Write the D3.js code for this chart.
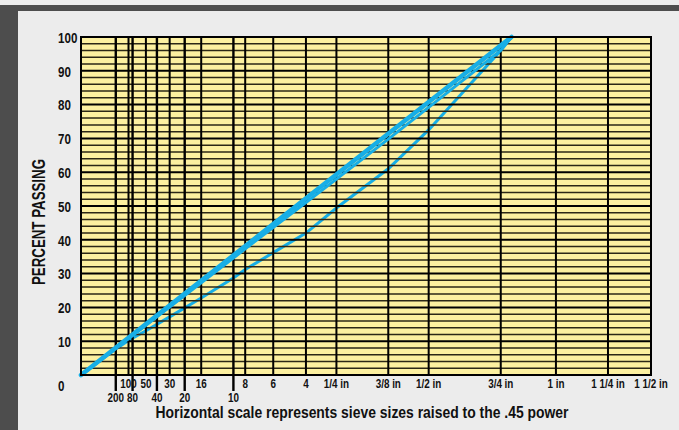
<!DOCTYPE html>
<html>
<head>
<meta charset="utf-8">
<script src="https://cdn.jsdelivr.net/npm/d3@7"></script>
<style>
  html, body { margin: 0; padding: 0; background: #ececec; }
  svg { display: block; }
  text { font-family: "Liberation Sans", Arial, sans-serif; font-weight: bold; fill: #111; }
</style>
</head>
<body>
<svg id="chart" width="679" height="430"></svg>
<script>
// Sieve openings (mm), their printed labels, and which label row they use (1 = lower row)
const sieveSizesMm = [0.075, 0.15, 0.18, 0.3, 0.425, 0.6, 0.85, 1.18, 2.0, 2.36, 3.35, 4.75, 6.3, 9.5, 12.5, 19, 25, 31.5, 37.5];
const sieveLabels  = ["200", "100", "80", "50", "40", "30", "20", "16", "10", "8", "6", "4", "1/4 in", "3/8 in", "1/2 in", "3/4 in", "1 in", "1 1/4 in", "1 1/2 in"];
const sieveLabelRow = [1, 0, 1, 0, 1, 0, 1, 0, 1, 0, 0, 0, 0, 0, 0, 0, 0, 0, 0];

// Percent passing axis
const percentTicks = [0, 10, 20, 30, 40, 50, 60, 70, 80, 90, 100];
const percentGrid = d3.range(0, 101, 2);

// Maximum density line
const maxDensitySizes = [0, 20.1];
const maxDensityPassing = [0, 100];

// Gradation lying just under the maximum density line
const gradationASizes = [0, 0.075, 0.3, 0.6, 1.18, 2.36, 4.75, 9.5, 12.5, 19, 20.1];
const gradationAPassing = [0, 8, 14.7, 20.1, 27.3, 37.3, 51, 69.8, 79.2, 96, 100];

// Finer-side gradation (lower curve)
const gradationBSizes = [0, 0.075, 0.15, 0.3, 0.6, 1.18, 2.0, 2.36, 3.35, 4.75, 6.3, 9.5, 12.5, 19, 20.1];
const gradationBPassing = [0, 7.7, 10.2, 13.1, 17.2, 22.8, 28.7, 31.2, 36.2, 42, 49.4, 61, 72.5, 96, 100];

const svg = d3.select("#chart");
const W = 679, H = 430;
const plotLeft = 81, plotRight = 651, plotTop = 37, plotBottom = 375;
const curveColor = "#17aee6";

// Backdrop and dark frame strips
svg.append("rect").attr("x", 0).attr("y", 0).attr("width", W).attr("height", H).attr("fill", "#ececec");
svg.append("rect").attr("x", 0).attr("y", 5).attr("width", W).attr("height", 6).attr("fill", "#4d4d4d");
svg.append("rect").attr("x", 0).attr("y", 5).attr("width", 18).attr("height", H - 5).attr("fill", "#4d4d4d");

// Horizontal axis: sieve size raised to the 0.45 power
const x = d3.scalePow().exponent(0.45).domain([0, 37.5]).range([plotLeft, plotRight]);
const y = d3.scaleLinear().domain([0, 100]).range([plotBottom, plotTop]);

svg.append("rect").attr("x", plotLeft).attr("y", plotTop)
  .attr("width", plotRight - plotLeft).attr("height", plotBottom - plotTop).attr("fill", "#fcf0a0");

const line = d3.line().x(d => x(d[0])).y(d => y(d[1]));

// Lower gradation sits beneath the grid, so the grid breaks it into dashes
svg.append("path")
  .datum(d3.zip(gradationBSizes, gradationBPassing))
  .attr("d", line).attr("fill", "none")
  .attr("stroke", curveColor).attr("stroke-width", 3).attr("stroke-linecap", "round");

// Horizontal grid every 2 percent
svg.append("g").selectAll("line").data(percentGrid).join("line")
  .attr("x1", plotLeft).attr("x2", plotRight)
  .attr("y1", d => y(d)).attr("y2", d => y(d))
  .attr("stroke", d => d % 10 === 0 ? "#000" : "#2b2716")
  .attr("stroke-width", d => d % 10 === 0 ? 2 : 1.5);

// Vertical sieve lines; lower-row sieves run down to their labels
const sieves = d3.zip(sieveSizesMm, sieveLabels, sieveLabelRow);
svg.append("g").selectAll("line").data(sieves).join("line")
  .attr("x1", d => x(d[0])).attr("x2", d => x(d[0]))
  .attr("y1", plotTop).attr("y2", d => d[2] === 1 ? plotBottom + 16 : plotBottom)
  .attr("stroke", "#000")
  .attr("stroke-width", d => d[2] === 1 ? 2.4 : 2);

// Sieve labels in a narrow face
svg.append("g").selectAll("text").data(sieves).join("text")
  .attr("transform", d => `translate(${x(d[0])},${d[2] === 1 ? 402 : 388}) scale(0.76,1)`)
  .attr("text-anchor", "middle")
  .attr("font-size", 13)
  .text(d => d[1]);

// Close gradation and max density line drawn over the grid
svg.append("path")
  .datum(d3.zip(gradationASizes, gradationAPassing))
  .attr("d", line).attr("fill", "none")
  .attr("stroke", curveColor).attr("stroke-width", 3).attr("stroke-linecap", "round");
svg.append("path")
  .datum(d3.zip(maxDensitySizes, maxDensityPassing))
  .attr("d", line).attr("fill", "none")
  .attr("stroke", curveColor).attr("stroke-width", 4.5).attr("stroke-linecap", "round");

// Plot border
svg.append("rect").attr("x", plotLeft).attr("y", plotTop)
  .attr("width", plotRight - plotLeft).attr("height", plotBottom - plotTop)
  .attr("fill", "none").attr("stroke", "#000").attr("stroke-width", 2);

// Percent passing labels
const yAxis = svg.append("g").attr("transform", "translate(58,0)")
  .call(d3.axisLeft(y).tickValues(percentTicks).tickSize(0).tickPadding(0));
yAxis.select(".domain").remove();
yAxis.attr("font-family", null).attr("font-size", null);
yAxis.selectAll("text")
  .attr("x", 0).attr("text-anchor", "start")
  .attr("transform", "scale(0.8,1)")
  .style("font-size", "14.5px")
  .attr("dy", d => d === 0 ? "1.05em" : "0.36em");

// Axis titles
svg.append("text")
  .attr("transform", "translate(45,222) rotate(-90)")
  .attr("text-anchor", "middle")
  .attr("font-size", 18)
  .attr("textLength", 126).attr("lengthAdjust", "spacingAndGlyphs")
  .text("PERCENT PASSING");
svg.append("text")
  .attr("x", 362).attr("y", 418)
  .attr("text-anchor", "middle")
  .attr("font-size", 17)
  .attr("textLength", 413).attr("lengthAdjust", "spacingAndGlyphs")
  .text("Horizontal scale represents sieve sizes raised to the .45 power");
</script>
</body>
</html>
